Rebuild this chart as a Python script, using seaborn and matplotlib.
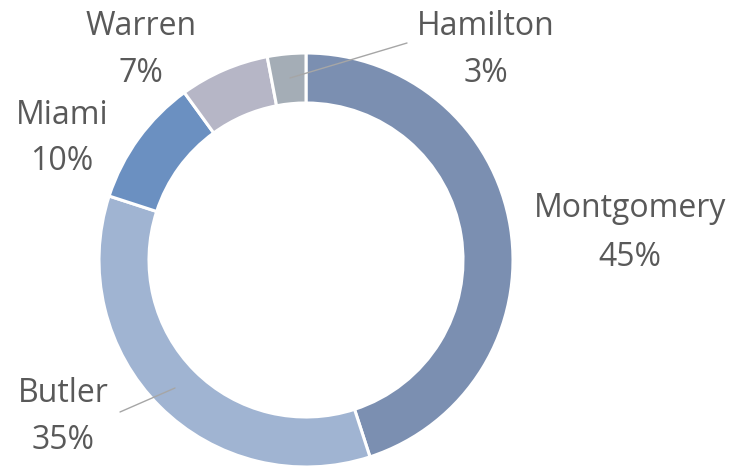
import matplotlib
matplotlib.use("Agg")
import matplotlib.pyplot as plt
import seaborn as sns

counties = ["Montgomery", "Butler", "Miami", "Warren", "Hamilton"]
shares = [45, 35, 10, 7, 3]
colors = ["#7b8fb1", "#a0b4d2", "#6b90c1", "#b6b6c6", "#a4adb6"]

sns.set_theme(style="white")
plt.rcParams["font.family"] = ["Open Sans", "DejaVu Sans"]

W, H = 734, 469
fig = plt.figure(figsize=(W / 100, H / 100), dpi=100)
ax = fig.add_axes([0, 0, 1, 1])

cx, cy, r_out = 306, H - 260, 207
ax.pie(shares, colors=colors, startangle=90, counterclock=False,
       center=(cx, cy), radius=r_out, frame=True,
       wedgeprops=dict(width=50, edgecolor="white", linewidth=2.2))

# label placement in pixel coords: x centre, baseline of name, baseline of percent
label_pos = {
    "Montgomery": (630, 217, 266),
    "Butler": (63, 402, 449),
    "Miami": (62, 124, 170),
    "Warren": (141, 35, 82),
    "Hamilton": (486, 35, 82),
}
txt_color = "#595959"
for name, val in zip(counties, shares):
    x, y1, y2 = label_pos[name]
    ax.text(x, H - y1, name, ha="center", va="baseline", fontsize=23, color=txt_color)
    ax.text(x, H - y2, f"{val}%", ha="center", va="baseline", fontsize=23, color=txt_color)

# leader lines
ax.plot([290, 407], [H - 78, H - 43], color="#a6a6a6", lw=1)
ax.plot([175, 120], [H - 388, H - 412], color="#a6a6a6", lw=1)

ax.set_xlim(0, W)
ax.set_ylim(0, H)
ax.set_aspect("equal")
ax.axis("off")

fig.savefig("out.png", dpi=100, facecolor="white")
